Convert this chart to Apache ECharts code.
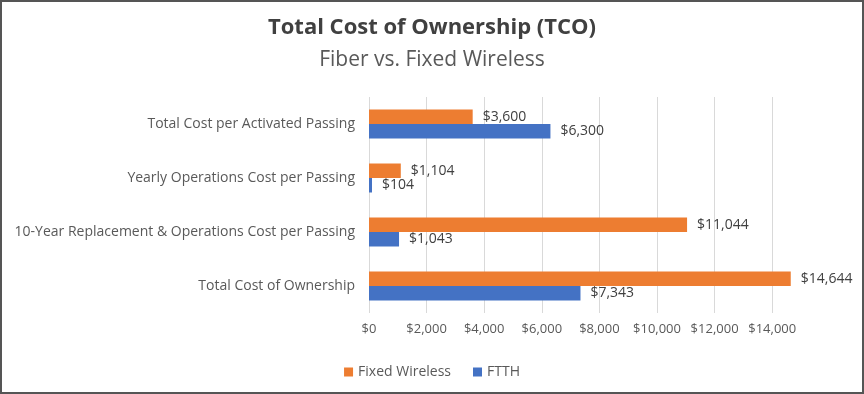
<!DOCTYPE html>
<html><head><meta charset="utf-8">
<script src="https://cdn.jsdelivr.net/npm/echarts@6/dist/echarts.min.js"></script>
<style>html,body{margin:0;padding:0;background:#fff}#c{width:864px;height:394px}</style>
</head><body><div id="c"></div>
<script>
const categories = ['Total Cost per Activated Passing','Yearly Operations Cost per Passing','10-Year Replacement & Operations Cost per Passing','Total Cost of Ownership'];
const fixedWireless = [3600, 1104, 11044, 14644];
const ftth = [6300, 104, 1043, 7343];
const seriesNames = ['Fixed Wireless','FTTH'];
const font = 'Open Sans';
const fmt = v => '$' + v.toLocaleString('en-US');
const chart = echarts.init(document.getElementById('c'));
const lbl = {show:true, position:'right', distance:10, color:'#404040', fontSize:14, fontFamily:font, formatter:p=>fmt(p.value)};
chart.setOption({
  animation:false,
  textStyle:{fontFamily:font},
  title:[
    {text:'Total Cost of Ownership (TCO)', left:'center', top:12, textStyle:{fontSize:22, fontWeight:'bold', color:'#404040', fontFamily:font}},
    {text:'Fiber vs. Fixed Wireless', left:'center', top:45, textStyle:{fontSize:21, fontWeight:'normal', color:'#595959', fontFamily:font}}
  ],
  graphic:[{type:'rect', shape:{x:1,y:1,width:862,height:392}, style:{fill:'none', stroke:'#555', lineWidth:2}, silent:true}],
  legend:{data:seriesNames, bottom:10, left:'center', itemWidth:9, itemHeight:9, itemGap:22, icon:'rect', textStyle:{fontSize:14, color:'#595959', fontFamily:font}},
  grid:{left:369, right:63, top:97, bottom:81, containLabel:false},
  xAxis:{type:'value', min:0, max:15000, interval:2000,
    axisLabel:{formatter:v=>fmt(v), color:'#595959', fontSize:13, fontFamily:font, showMaxLabel:false, margin:10},
    axisLine:{show:false}, axisTick:{show:false},
    splitLine:{show:true, showMaxLine:false, lineStyle:{color:'#d9d9d9', width:1}}},
  yAxis:{type:'category', data:categories, inverse:true,
    axisLine:{show:false}, axisTick:{show:false},
    axisLabel:{color:'#595959', fontSize:14, fontFamily:font, margin:14}},
  series:[
    {name:seriesNames[0], type:'bar', data:fixedWireless, barWidth:14.5, barGap:'0%', itemStyle:{color:'#ED7D31'}, label:lbl},
    {name:seriesNames[1], type:'bar', data:ftth, barWidth:14.5, barGap:'0%', itemStyle:{color:'#4472C4'}, label:lbl}
  ]
});
</script></body></html>
